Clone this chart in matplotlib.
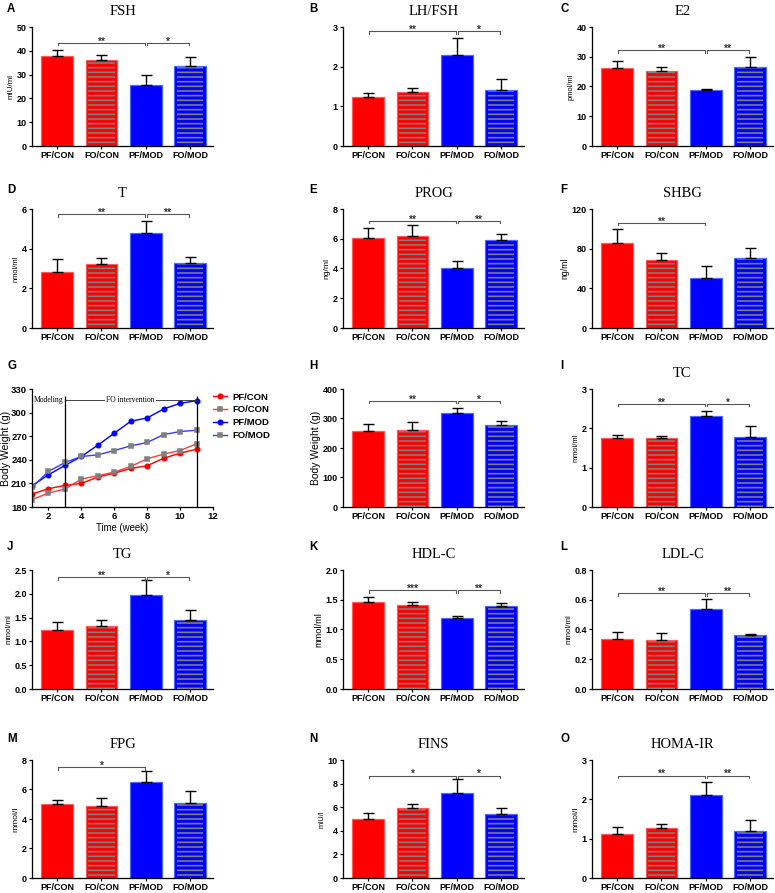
import matplotlib
matplotlib.use('Agg')
import matplotlib.pyplot as plt
from matplotlib.ticker import MultipleLocator, FormatStrFormatter

DPI = 112
W, H = 775, 893


def px(v):
    # pixel size -> points at this dpi
    return v * 72.0 / DPI


groups = ['PF/CON', 'FO/CON', 'PF/MOD', 'FO/MOD']

# bar panels: means and upper SEM
fsh_mean = [38.0, 36.0, 25.5, 33.5]
fsh_err = [2.5, 2.3, 4.2, 3.8]
lhfsh_mean = [1.24, 1.36, 2.29, 1.40]
lhfsh_err = [0.10, 0.09, 0.43, 0.30]
e2_mean = [26.3, 25.2, 18.7, 26.5]
e2_err = [2.4, 1.4, 0.5, 3.4]
t_mean = [2.84, 3.21, 4.80, 3.29]
t_err = [0.62, 0.34, 0.61, 0.31]
prog_mean = [6.04, 6.2, 4.0, 5.9]
prog_err = [0.66, 0.7, 0.5, 0.45]
shbg_mean = [85.9, 68.3, 50.4, 70.7]
shbg_err = [13.5, 7.4, 12.1, 10.4]
bw_mean = [257, 262.5, 317.7, 279.4]
bw_err = [25, 27, 17, 12.4]
tc_mean = [1.76, 1.76, 2.32, 1.78]
tc_err = [0.06, 0.05, 0.11, 0.27]
tg_mean = [1.24, 1.32, 1.97, 1.45]
tg_err = [0.16, 0.13, 0.33, 0.21]
hdl_mean = [1.46, 1.41, 1.19, 1.40]
hdl_err = [0.09, 0.05, 0.04, 0.05]
ldl_mean = [0.337, 0.330, 0.540, 0.360]
ldl_err = [0.045, 0.048, 0.063, 0.013]
fpg_mean = [5.0, 4.9, 6.5, 5.1]
fpg_err = [0.3, 0.5, 0.75, 0.8]
fins_mean = [5.01, 5.97, 7.18, 5.41]
fins_err = [0.48, 0.34, 1.19, 0.56]
homa_mean = [1.12, 1.27, 2.10, 1.20]
homa_err = [0.17, 0.11, 0.34, 0.28]

# body weight time course (panel G)
weeks = [1, 2, 3, 4, 5, 6, 7, 8, 9, 10, 11]
bw_pf_con = [196.5, 203.2, 207.5, 210.0, 218.0, 223.0, 229.0, 232.4, 242.0, 248.4, 253.5]
bw_fo_con = [189.3, 197.7, 202.8, 215.5, 219.7, 224.4, 231.5, 241.3, 247.2, 251.8, 260.3]
bw_pf_mod = [207.0, 221.0, 232.8, 244.2, 258.6, 273.8, 289.0, 293.2, 304.6, 311.8, 315.2]
bw_fo_mod = [205.0, 225.2, 236.6, 244.2, 246.3, 251.8, 257.7, 262.0, 272.1, 275.9, 277.6]

RED = '#FF0000'
BLUE = '#0000FF'
GRAY = '#808080'
BRK = '#555555'

plt.rcParams['font.family'] = ['Liberation Sans', 'DejaVu Sans']
plt.rcParams['font.weight'] = 'bold'
plt.rcParams['hatch.linewidth'] = px(1.6)

fig = plt.figure(figsize=((W + 0.01) / DPI, (H + 0.01) / DPI), dpi=DPI)

col_left = [32, 343, 592]
col_w = 181
rows = [(27, 146), (209, 328), (389, 507), (570, 689), (760, 878)]
letter_x = [7, 309, 560]
letter_y = [9, 189.5, 365.5, 546.5, 739]


def make_ax(r, c):
    top, bot = rows[r]
    ax = fig.add_axes([col_left[c] / W, 1 - bot / H, col_w / W, (bot - top) / H])
    for s in ['top', 'right']:
        ax.spines[s].set_visible(False)
    for s in ['left', 'bottom']:
        ax.spines[s].set_linewidth(px(1.3))
    ax.tick_params(direction='out', length=px(3), width=px(1.2), labelsize=px(9), pad=px(2))
    fig.text(letter_x[c] / W, 1 - letter_y[r] / H, 'ABCDEFGHIJKLMNO'[r * 3 + c],
             fontsize=px(11.5), fontweight='bold', ha='left', va='center')
    return ax


def bracket(ax, i, j, y, stars, ymax):
    d = ymax * 0.02
    ax.plot([i + 0.02, i + 0.02, j - 0.02, j - 0.02], [y - d, y, y, y - d],
            color=BRK, lw=px(1.1), zorder=5)
    ax.annotate(stars, xy=((i + j) / 2, y), xytext=(0, px(-3.5)), textcoords='offset points',
                ha='center', va='bottom', fontsize=px(10), color='#333333', zorder=6)


def bar_panel(r, c, title, mean, err, ylabel, ysize, ymax, step, fmt, brackets):
    ax = make_ax(r, c)
    for i in range(4):
        face = RED if i < 2 else BLUE
        edge = '#FF5A5A' if i < 2 else '#4A6BFF'
        ax.bar(i, mean[i], width=0.72, color=face, edgecolor=edge, linewidth=px(1.2), zorder=2)
        if i % 2 == 1:
            ax.bar(i, mean[i] * 0.985, width=0.6, color='none', edgecolor=GRAY,
                   linewidth=0, hatch='----', zorder=3)
    ax.errorbar(range(4), mean, yerr=[[0] * 4, err], fmt='none', ecolor='black',
                elinewidth=px(1.4), capsize=px(5.5), capthick=px(1.4), zorder=4)
    for i, j, y, s in brackets:
        bracket(ax, i, j, y, s, ymax)
    ax.set_xlim(-0.57, 3.52)
    ax.set_ylim(0, ymax)
    ax.yaxis.set_major_locator(MultipleLocator(step))
    ax.yaxis.set_major_formatter(FormatStrFormatter(fmt))
    ax.set_xticks(range(4))
    ax.set_xticklabels(groups)
    ax.set_title(title, fontfamily='Liberation Serif', fontweight='normal',
                 fontsize=px(14.5), pad=px(12.5))
    if ylabel:
        ax.set_ylabel(ylabel, fontsize=px(ysize), labelpad=px(2))
    return ax


bar_panel(0, 0, 'FSH', fsh_mean, fsh_err, 'mIU/ml', 8, 50, 10, '%d',
          [(0, 2, 43.3, '**'), (2, 3, 43.3, '*')])
bar_panel(0, 1, 'LH/FSH', lhfsh_mean, lhfsh_err, '', 8, 3, 1, '%d',
          [(0, 2, 2.89, '**'), (2, 3, 2.89, '*')])
bar_panel(0, 2, 'E2', e2_mean, e2_err, 'pmol/ml', 7.5, 40, 10, '%d',
          [(0, 2, 32.2, '**'), (2, 3, 32.2, '**')])
bar_panel(1, 0, 'T', t_mean, t_err, 'nmol/ml', 7.5, 6, 2, '%d',
          [(0, 2, 5.74, '**'), (2, 3, 5.74, '**')])
bar_panel(1, 1, 'PROG', prog_mean, prog_err, 'ng/ml', 8.5, 8, 2, '%d',
          [(0, 2, 7.2, '**'), (2, 3, 7.2, '**')])
bar_panel(1, 2, 'SHBG', shbg_mean, shbg_err, 'ng/ml', 8.7, 120, 40, '%d',
          [(0, 2, 106, '**')])
bar_panel(2, 1, '', bw_mean, bw_err, 'Body Weight (g)', 10.4, 400, 100, '%d',
          [(0, 2, 359, '**'), (2, 3, 359, '*')])
bar_panel(2, 2, 'TC', tc_mean, tc_err, 'mmol/ml', 7.5, 3, 1, '%d',
          [(0, 2, 2.62, '**'), (2, 3, 2.62, '*')])
bar_panel(3, 0, 'TG', tg_mean, tg_err, 'mmol/ml', 8, 2.5, 0.5, '%.1f',
          [(0, 2, 2.35, '**'), (2, 3, 2.35, '*')])
bar_panel(3, 1, 'HDL-C', hdl_mean, hdl_err, 'mmol/ml', 9.2, 2.0, 0.5, '%.1f',
          [(0, 2, 1.66, '***'), (2, 3, 1.66, '**')])
bar_panel(3, 2, 'LDL-C', ldl_mean, ldl_err, 'mmol/ml', 8, 0.8, 0.2, '%.1f',
          [(0, 2, 0.644, '**'), (2, 3, 0.644, '**')])
bar_panel(4, 0, 'FPG', fpg_mean, fpg_err, 'mmol/l', 8.5, 8, 2, '%d',
          [(0, 2, 7.5, '*')])
bar_panel(4, 1, 'FINS', fins_mean, fins_err, 'mIU/l', 7.5, 10, 2, '%d',
          [(0, 2, 8.68, '*'), (2, 3, 8.68, '*')])
bar_panel(4, 2, 'HOMA-IR', homa_mean, homa_err, 'mmol/l', 8.5, 3, 1, '%d',
          [(0, 2, 2.6, '**'), (2, 3, 2.6, '**')])

# panel G: body weight over time
ax = make_ax(2, 0)
ax.tick_params(labelsize=px(9.5))
lw = px(1.4)
ms = px(4.5)
ax.plot(weeks, bw_pf_con, color=RED, lw=lw, marker='o', ms=ms, mfc=RED, mec=RED, label='PF/CON')
ax.plot(weeks, bw_fo_con, color='#FF3B3B', lw=lw, marker='s', ms=ms, mfc=GRAY, mec=GRAY, label='FO/CON')
ax.plot(weeks, bw_pf_mod, color=BLUE, lw=lw, marker='o', ms=ms, mfc=BLUE, mec=BLUE, label='PF/MOD')
ax.plot(weeks, bw_fo_mod, color='#3B3BFF', lw=lw, marker='s', ms=ms, mfc=GRAY, mec=GRAY, label='FO/MOD')
ax.vlines([3, 11], 180, 321, color='black', lw=px(1.3), zorder=5)
ax.hlines(316, 3, 11, color='#333333', lw=px(0.9), zorder=5)
ax.text(1.08, 316.5, 'Modeling', fontfamily='Liberation Serif', fontweight='normal',
        fontsize=px(7.6), ha='left', va='center', zorder=6)
ax.text(7, 316.5, 'FO intervention', fontfamily='Liberation Serif', fontweight='normal',
        fontsize=px(7.6), ha='center', va='center', zorder=6,
        bbox=dict(facecolor='white', edgecolor='none', pad=1))
ax.set_xlim(1, 12)
ax.set_ylim(180, 330)
ax.set_xticks([2, 4, 6, 8, 10, 12])
ax.yaxis.set_major_locator(MultipleLocator(30))
ax.set_xlabel('Time (week)', fontsize=px(9.6), labelpad=px(2))
ax.set_ylabel('Body Weight (g)', fontsize=px(10.5), labelpad=px(0.5))
ax.legend(loc='upper left', bbox_to_anchor=(1.0, 0.97), frameon=False, fontsize=px(9.5),
          handlelength=1.5, handletextpad=0.5, labelspacing=0.4, borderpad=0, borderaxespad=0)

fig.savefig('out.png', dpi=DPI)
